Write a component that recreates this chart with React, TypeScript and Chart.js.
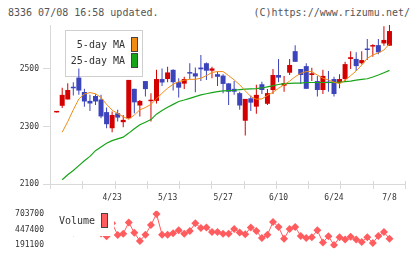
import React, { useEffect, useRef } from 'react';
import { Chart, registerables } from 'chart.js';

Chart.register(...registerables);

// ---- data ----
const xTickIdx = [10, 20, 30, 40, 50, 60];
const xTickLabels = ['4/23', '5/13', '5/27', '6/10', '6/24', '7/8'];
const priceTicks = [2100, 2300, 2500];
const volTicks = [191100, 447400, 703700];

const opens = [2349, 2372, 2394, 2438, 2470, 2420, 2389, 2406, 2394, 2350,
  2294, 2346, 2315, 2329, 2431, 2373, 2458, 2388, 2389, 2465,
  2465, 2497, 2454, 2449, 2488, 2485, 2505, 2520, 2494, 2482,
  2477, 2450, 2431, 2416, 2320, 2398, 2369, 2447, 2379, 2427,
  2479, 2442, 2487, 2562, 2500, 2510, 2479, 2458, 2427, 2456,
  2465, 2451, 2465, 2535, 2535, 2520, 2569, 2578, 2583, 2589,
  2581];
const closes = [2351, 2410, 2427, 2433, 2425, 2387, 2380, 2387, 2335, 2308,
  2340, 2331, 2323, 2462, 2384, 2389, 2430, 2390, 2465, 2453,
  2488, 2454, 2435, 2465, 2484, 2474, 2499, 2494, 2502, 2473,
  2448, 2421, 2421, 2373, 2396, 2383, 2410, 2427, 2416, 2479,
  2470, 2451, 2514, 2525, 2479, 2431, 2485, 2427, 2476, 2451,
  2413, 2465, 2517, 2541, 2510, 2531, 2566, 2583, 2558, 2601,
  2632];
const highs = [2351, 2435, 2450, 2454, 2502, 2431, 2410, 2412, 2410, 2366,
  2352, 2358, 2340, 2462, 2431, 2392, 2458, 2416, 2497, 2502,
  2508, 2499, 2468, 2473, 2520, 2505, 2549, 2523, 2508, 2491,
  2482, 2450, 2458, 2421, 2396, 2408, 2445, 2456, 2430, 2500,
  2535, 2476, 2535, 2583, 2500, 2520, 2504, 2476, 2497, 2493,
  2473, 2482, 2525, 2562, 2558, 2562, 2604, 2586, 2604, 2649,
  2653];
const lows = [2349, 2364, 2394, 2408, 2410, 2369, 2354, 2375, 2329, 2294,
  2280, 2317, 2297, 2327, 2346, 2335, 2404, 2317, 2380, 2441,
  2454, 2425, 2401, 2430, 2465, 2419, 2458, 2462, 2468, 2441,
  2416, 2375, 2410, 2358, 2269, 2354, 2344, 2413, 2375, 2413,
  2454, 2421, 2479, 2525, 2448, 2431, 2458, 2404, 2413, 2421,
  2404, 2433, 2456, 2500, 2493, 2516, 2531, 2543, 2551, 2581,
  2581];
const ma5 = [null, 2280, 2317, 2358, 2396, 2413, 2418, 2414, 2401, 2377,
  2357, 2345, 2334, 2325, 2340, 2358, 2366, 2377, 2396, 2416,
  2433, 2447, 2456, 2461, 2464, 2464, 2468, 2477, 2488, 2491,
  2491, 2477, 2462, 2445, 2424, 2404, 2395, 2396, 2408, 2419,
  2433, 2445, 2458, 2473, 2485, 2491, 2491, 2479, 2468, 2462,
  2454, 2449, 2461, 2477, 2493, 2514, 2537, 2549, 2556, 2566,
  2588];
const ma25 = [null, 2115, 2132, 2147, 2164, 2181, 2196, 2216, 2229, 2242,
  2251, 2257, 2263, 2277, 2292, 2306, 2315, 2324, 2343, 2356,
  2367, 2377, 2387, 2392, 2398, 2404, 2410, 2414, 2418, 2421,
  2424, 2425, 2426, 2428, 2430, 2431, 2432, 2434, 2438, 2442,
  2446, 2449, 2450, 2451, 2451, 2453, 2453, 2453, 2453, 2453,
  2453, 2454, 2456, 2458, 2461, 2464, 2466, 2472, 2479, 2487,
  2495];
const volume = [430000, 480000, 510000, 400000, 560000, 450000, 410000, 440000, 383300, 335900,
  549900, 357700, 379500, 562700, 392300, 259000, 361500, 520400, 703700, 361500,
  361500, 387200, 434600, 379500, 421800, 549900, 473000, 482000, 405100, 405100,
  379500, 379500, 456400, 400000, 370500, 482000, 421800, 306400, 361500, 571700,
  489700, 293600, 456400, 489700, 341000, 306400, 319200, 434600, 233400, 335900,
  191100, 319200, 284700, 328200, 284700, 242400, 319200, 225700, 341000, 405100,
  293600];

const FONT = "'DejaVu Sans Mono', monospace";
const RED = '#d40000';
const BLUE = '#3c44bc';
const ORANGE = '#f08c14';
const GREEN = '#18a418';
const VOLC = '#ff5c5f';
const AXIS = '#d9d9d9';

export default function App() {
  const mainRef = useRef<HTMLCanvasElement>(null);
  const volRef = useRef<HTMLCanvasElement>(null);

  useEffect(() => {
    const idx = closes.map((_, i) => i);
    const colors = idx.map((i) => (closes[i] >= opens[i] ? RED : BLUE));
    const xMin = -1.2;
    const xMax = 62.8;

    const mainLegend = {
      id: 'mainLegend',
      beforeDatasetsDraw(chart: any) {
        const ctx = chart.ctx;
        const ds = chart.data.datasets;
        ctx.save();
        ctx.fillStyle = '#ffffff';
        ctx.fillRect(65, 30, 78, 47);
        ctx.strokeStyle = '#cfcfcf';
        ctx.lineWidth = 1;
        ctx.strokeRect(65.5, 30.5, 77, 46);
        ctx.font = `10px ${FONT}`;
        ctx.textAlign = 'right';
        ctx.textBaseline = 'middle';
        const rows = [ds[0], ds[1]];
        rows.forEach((d: any, k: number) => {
          const cy = 45 + k * 16;
          ctx.fillStyle = '#333';
          ctx.fillText(d.label, 125, cy);
          ctx.fillStyle = d.borderColor;
          ctx.fillRect(131, cy - 8, 7, 15);
          ctx.strokeStyle = '#444';
          ctx.strokeRect(131.5, cy - 7.5, 6, 14);
        });
        ctx.restore();
      },
    };

    const xTickMarks = {
      id: 'xTickMarks',
      afterDraw(chart: any) {
        const { left, right, bottom } = chart.chartArea;
        const ctx = chart.ctx;
        ctx.save();
        ctx.strokeStyle = AXIS;
        ctx.lineWidth = 1;
        ctx.beginPath();
        for (let k = 0; k <= 11; k++) {
          const px = Math.round(left + (k * (right - left)) / 11) + 0.5;
          ctx.moveTo(px, bottom - 3);
          ctx.lineTo(px, bottom + 5);
        }
        ctx.stroke();
        ctx.restore();
      },
    };

    const plain = (v: any) => String(v);

    const main = new Chart(mainRef.current as HTMLCanvasElement, {
      type: 'bar',
      data: {
        datasets: [
          {
            type: 'line',
            label: '5-day MA',
            data: idx.map((i) => ({ x: i, y: ma5[i] })),
            borderColor: ORANGE,
            backgroundColor: ORANGE,
            borderWidth: 1,
            pointRadius: 0,
            tension: 0,
            order: 1,
          },
          {
            type: 'line',
            label: '25-day MA',
            data: idx.map((i) => ({ x: i, y: ma25[i] })),
            borderColor: GREEN,
            backgroundColor: GREEN,
            borderWidth: 1.2,
            pointRadius: 0,
            tension: 0,
            order: 1,
          },
          {
            type: 'bar',
            label: 'wick',
            data: idx.map((i) => ({ x: i, y: [lows[i], highs[i]] })),
            backgroundColor: colors,
            barThickness: 1,
            grouped: false,
            inflateAmount: 0,
            minBarLength: 1,
            order: 3,
          },
          {
            type: 'bar',
            label: 'body',
            data: idx.map((i) => ({ x: i, y: [opens[i], closes[i]] })),
            backgroundColor: colors,
            barThickness: 5,
            grouped: false,
            inflateAmount: 0,
            minBarLength: 1.5,
            order: 2,
          },
        ],
      } as any,
      options: {
        responsive: false,
        animation: false,
        events: [],
        layout: { padding: { top: 25, right: 15, left: 0, bottom: 0 } },
        plugins: { legend: { display: false }, tooltip: { enabled: false } },
        scales: {
          x: {
            type: 'linear',
            min: xMin,
            max: xMax,
            offset: false,
            afterFit: (s: any) => {
              s.height = 21;
            },
            afterBuildTicks: (s: any) => {
              s.ticks = xTickIdx.map((v) => ({ value: v }));
            },
            ticks: {
              autoSkip: false,
              maxRotation: 0,
              padding: 9,
              color: '#333',
              font: { family: FONT, size: 8 },
              callback: (v: any) => {
                const k = xTickIdx.indexOf(Number(v));
                return k >= 0 ? xTickLabels[k] : '';
              },
            },
            grid: { display: false, drawTicks: false },
            border: { display: true, color: AXIS },
          },
          y: {
            type: 'linear',
            min: priceTicks[0],
            max: Math.max(...highs),
            afterFit: (s: any) => {
              s.width = 50;
            },
            afterBuildTicks: (s: any) => {
              s.ticks = priceTicks.map((v) => ({ value: v }));
            },
            ticks: { padding: 4, color: '#333', font: { family: FONT, size: 8 }, callback: plain },
            grid: { drawOnChartArea: false, drawTicks: true, tickLength: 7, color: AXIS },
            border: { display: true, color: AXIS },
          },
        },
      } as any,
      plugins: [mainLegend, xTickMarks],
    });

    const vRange = volTicks[volTicks.length - 1] - volTicks[0];
    const vMin = volTicks[0] - vRange * 0.1;
    const vMax = volTicks[volTicks.length - 1] + vRange * 0.1;

    const volLegend = {
      id: 'volLegend',
      afterDatasetsDraw(chart: any) {
        const ctx = chart.ctx;
        const d = chart.data.datasets[0];
        ctx.save();
        ctx.fillStyle = '#ffffff';
        ctx.fillRect(50, 4, 64, 32);
        ctx.font = `10px ${FONT}`;
        ctx.fillStyle = '#333';
        ctx.textAlign = 'right';
        ctx.textBaseline = 'middle';
        ctx.fillText(d.label, 95, 21);
        ctx.fillStyle = d.borderColor;
        ctx.fillRect(101, 13, 7, 15);
        ctx.strokeStyle = '#444';
        ctx.lineWidth = 1;
        ctx.strokeRect(101.5, 13.5, 6, 14);
        ctx.restore();
      },
    };

    const vol = new Chart(volRef.current as HTMLCanvasElement, {
      type: 'line',
      data: {
        datasets: [
          {
            label: 'Volume',
            data: idx.map((i) => ({ x: i, y: volume[i] })),
            borderColor: VOLC,
            backgroundColor: VOLC,
            borderWidth: 1,
            pointStyle: 'rectRot',
            pointRadius: 4,
            pointBorderWidth: 0,
            pointBackgroundColor: VOLC,
            tension: 0,
          },
        ],
      } as any,
      options: {
        responsive: false,
        animation: false,
        events: [],
        layout: { padding: { top: 5, right: 15, left: 0, bottom: 6 } },
        plugins: { legend: { display: false }, tooltip: { enabled: false } },
        scales: {
          x: { type: 'linear', min: xMin, max: xMax, display: false },
          y: {
            type: 'linear',
            min: vMin,
            max: vMax,
            afterFit: (s: any) => {
              s.width = 50;
            },
            afterBuildTicks: (s: any) => {
              s.ticks = volTicks.map((v) => ({ value: v }));
            },
            ticks: { padding: 6, color: '#333', font: { family: FONT, size: 8 }, callback: plain },
            grid: { display: false, drawTicks: false },
            border: { display: false },
          },
        },
      } as any,
      plugins: [volLegend],
    });

    return () => {
      main.destroy();
      vol.destroy();
    };
  }, []);

  const textStyle: React.CSSProperties = {
    position: 'absolute',
    top: 7,
    fontFamily: FONT,
    fontSize: 10,
    lineHeight: '12px',
    color: '#555',
    whiteSpace: 'pre',
  };

  return (
    <div style={{ position: 'absolute', left: 0, top: 0, width: 420, height: 259, background: '#fff', overflow: 'hidden' }}>
      <div style={{ ...textStyle, left: 8 }}>8336 07/08 16:58 updated.</div>
      <div style={{ ...textStyle, right: 10 }}>(C)https://www.rizumu.net/</div>
      <canvas ref={mainRef} width={420} height={205} style={{ position: 'absolute', left: 0, top: 0, width: 420, height: 205 }} />
      <canvas ref={volRef} width={420} height={59} style={{ position: 'absolute', left: 0, top: 200, width: 420, height: 59 }} />
    </div>
  );
}
